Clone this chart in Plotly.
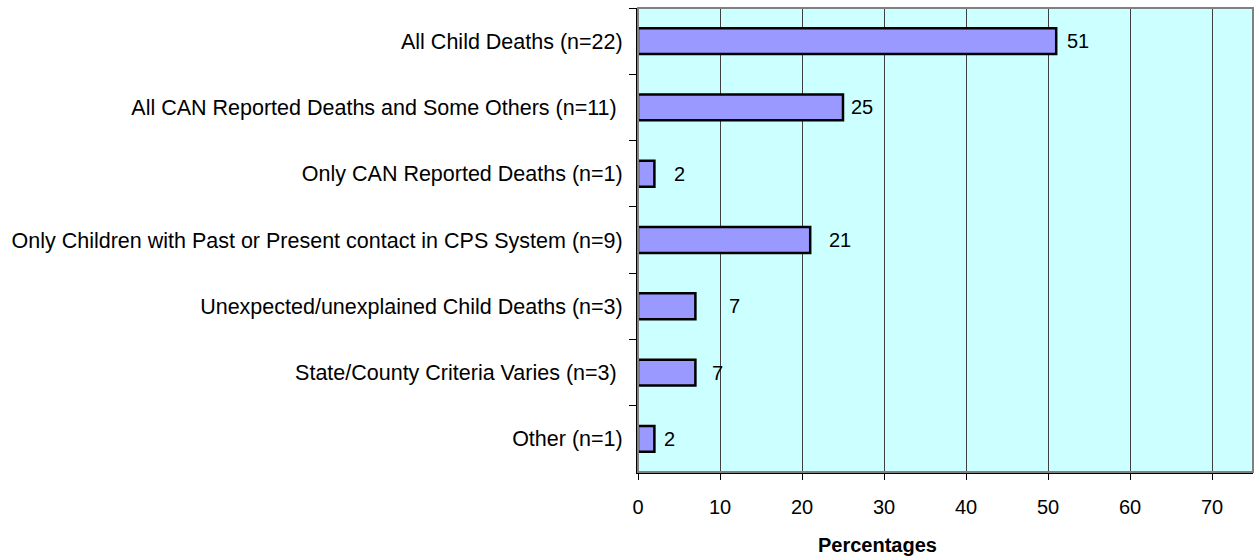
import plotly.graph_objects as go

categories = [
    "All Child Deaths (n=22)",
    "All CAN Reported Deaths and Some Others (n=11) ",
    "Only CAN Reported Deaths (n=1)",
    "Only Children with Past or Present contact in CPS System (n=9)",
    "Unexpected/unexplained Child Deaths (n=3)",
    "State/County Criteria Varies (n=3) ",
    "Other (n=1)",
]
percentages = [51, 25, 2, 21, 7, 7, 2]
# horizontal pixel gap between each bar end and its value label
label_gaps = [9, 6, 18, 17, 32, 15, 8]
x_ticks = [0, 10, 20, 30, 40, 50, 60, 70]

FONT = "Liberation Sans, Arial, sans-serif"

fig = go.Figure()
fig.add_trace(go.Bar(
    x=percentages,
    y=categories,
    orientation="h",
    marker=dict(color="#9999FF", line=dict(color="#000000", width=2.5)),
    hoverinfo="x+y",
))

annotations = []
for cat, val, gap in zip(categories, percentages, label_gaps):
    annotations.append(dict(
        x=val, y=cat, xref="x", yref="y",
        text=str(val), showarrow=False,
        xanchor="left", yanchor="middle", xshift=gap,
        font=dict(family=FONT, size=20, color="#000000"),
    ))
annotations.append(dict(
    x=0.389, y=-0.158, xref="paper", yref="paper",
    text="<b>Percentages</b>", showarrow=False,
    xanchor="center", yanchor="middle",
    font=dict(family=FONT, size=20, color="#000000"),
))

fig.update_layout(
    width=1256, height=558,
    margin=dict(l=638, r=3, t=8, b=86),
    paper_bgcolor="#FFFFFF",
    plot_bgcolor="#CCFFFF",
    bargap=0.61,
    showlegend=False,
    font=dict(family=FONT, size=20, color="#000000"),
    annotations=annotations,
    shapes=[dict(
        type="rect", xref="paper", yref="paper",
        x0=0, y0=0, x1=1, y1=1,
        line=dict(color="#808080", width=2), layer="above",
    )],
)

fig.update_xaxes(
    range=[0, 75],
    tickvals=x_ticks,
    ticktext=[str(t) for t in x_ticks],
    showgrid=True, gridcolor="#404040", gridwidth=1,
    zeroline=False,
    showline=True, linecolor="#000000", linewidth=2,
    ticks="outside", ticklen=6, tickcolor="#000000", tickwidth=1,
    ticklabelstandoff=10,
    tickfont=dict(family=FONT, size=20),
)
fig.update_yaxes(
    categoryorder="array", categoryarray=categories,
    autorange="reversed",
    showgrid=False, zeroline=False,
    showline=True, linecolor="#000000", linewidth=2,
    ticks="outside", ticklen=7, tickcolor="#000000", tickwidth=1,
    tickson="boundaries",
    ticklabelstandoff=9,
    tickfont=dict(family=FONT, size=21.5),
)

fig.write_html("out.html")
